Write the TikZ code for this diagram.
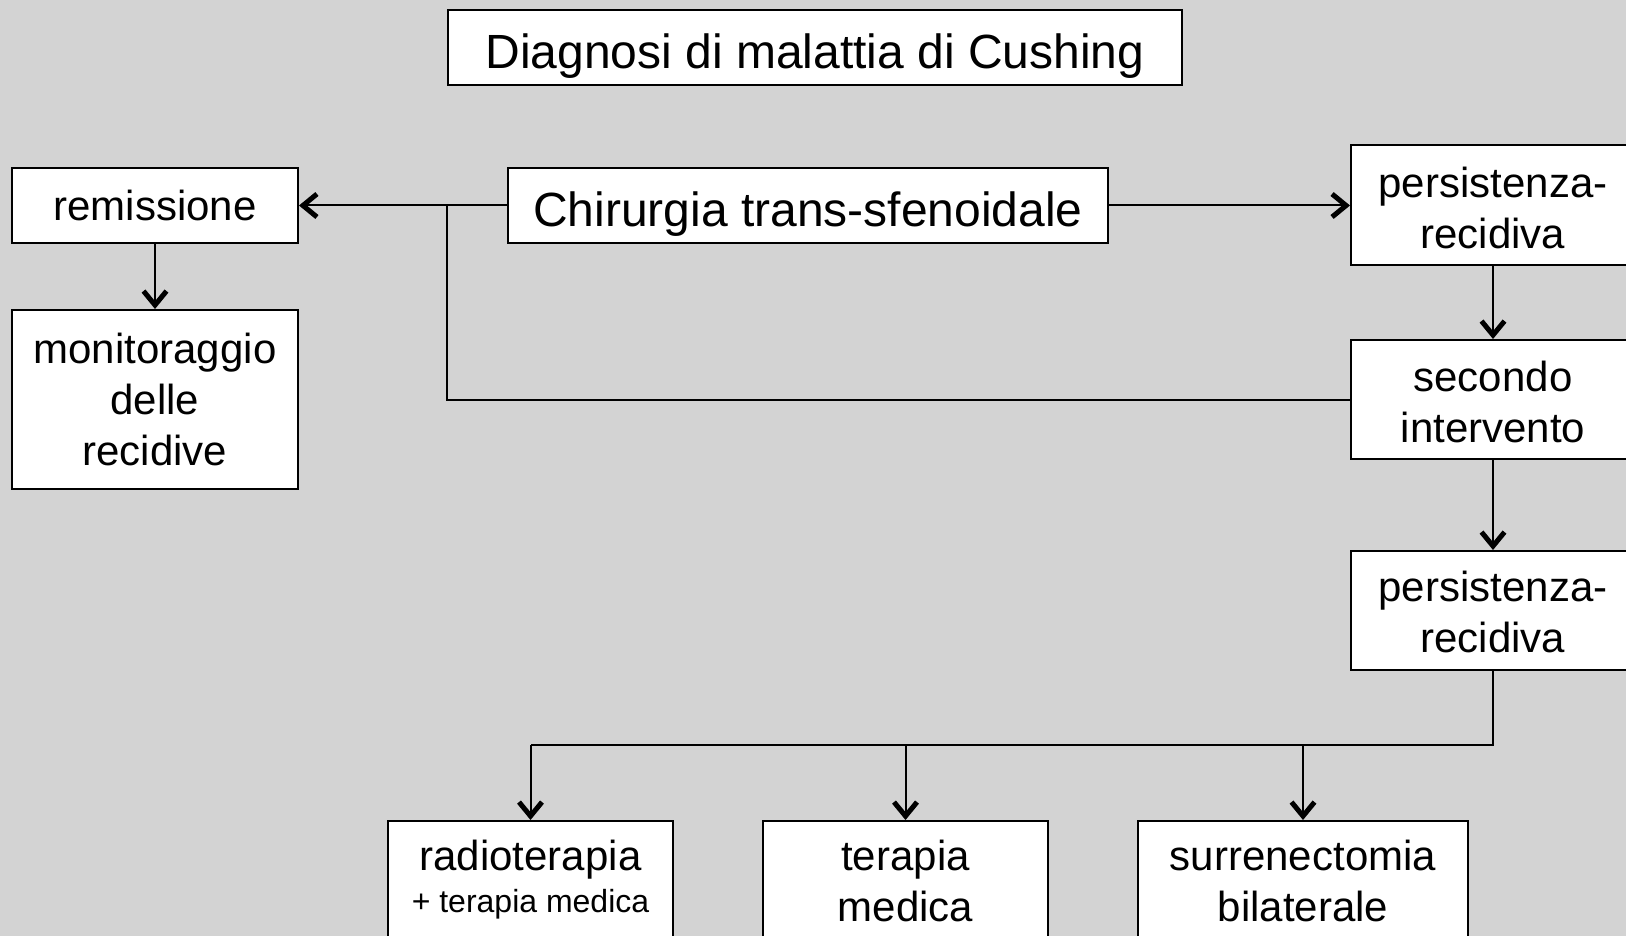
\documentclass[tikz,border=0pt]{standalone}
\usepackage{fontspec}
\setmainfont{Liberation Sans}
\usetikzlibrary{arrows.meta}
\definecolor{bgc}{RGB}{211,211,211}
\begin{document}
\begin{tikzpicture}[x=0.5pt,y=-0.5pt,
  box/.style={draw=black, line width=1pt, fill=white, align=center, inner sep=0pt,
              font=\fontsize{21}{25.5}\selectfont},
  bigbox/.style={box, font=\fontsize{24}{28}\selectfont, text height=21pt, text depth=0pt},
  conn/.style={line width=1pt, draw=black},
  arr/.style={conn, -{Straight Barb[length=7pt,width=11.5pt,line width=2.5pt]}}]
\useasboundingbox (0,0) rectangle (1626,936);
\clip (0,0) rectangle (1626,936);
\fill[bgc] (0,0) rectangle (1626,936);

\node[bigbox, minimum width=367pt, minimum height=37.5pt] (title) at (815,47.5) {Diagnosi di malattia di Cushing};
\node[bigbox, minimum width=300pt, minimum height=37.5pt] (chir) at (808,205.5) {Chirurgia trans-sfenoidale};
\node[box, minimum width=143pt, minimum height=37.5pt] (remis) at (155,205.5) {remissione};
\node[box, minimum width=143pt, minimum height=89.5pt] (monit) at (155,399.5) {monitoraggio\\delle\\recidive};
\node[box, minimum width=142pt, minimum height=60pt] (pers1) at (1493,205) {\rule{0pt}{18pt}persistenza-\\recidiva};
\node[box, minimum width=142pt, minimum height=59.5pt] (second) at (1493,399.5) {\rule{0pt}{18pt}secondo\\intervento};
\node[box, minimum width=142pt, minimum height=59.5pt] (pers2) at (1493,610.5) {\rule{0pt}{17pt}persistenza-\\recidiva};

\node[box, anchor=north, minimum width=142.5pt, inner ysep=7pt] (radio) at (530.5,820)
  {\parbox[t][70pt][t]{140pt}{\centering\strut radioterapia\\[-4.5pt]{\fontsize{16}{19}\selectfont + terapia medica}}};
\node[box, anchor=north, minimum width=142.5pt, inner ysep=7pt] (terap) at (905.5,820)
  {\parbox[t][70pt][t]{140pt}{\centering\strut terapia\\medica}};
\node[box, anchor=north, minimum width=165pt, inner ysep=7pt] (surr) at (1303,820)
  {\parbox[t][70pt][t]{160pt}{\centering\strut surrenectomia\\bilaterale}};

\coordinate (J) at (447,205.5);
\coordinate (B) at (1493,745);

\draw[arr] (chir.west) -- (remis.east);
\draw[conn] (J) |- (second.west);
\draw[arr] (chir.east) -- (chir.east -| pers1.west);
\draw[arr] (remis.south) -- (monit.north);
\draw[arr] (pers1.south) -- (second.north);
\draw[arr] (second.south) -- (pers2.north);
\draw[conn] (pers2.south) -- (B) -- (B -| radio.north);
\draw[arr] (B -| radio.north) -- (radio.north);
\draw[arr] (B -| terap.north) -- (terap.north);
\draw[arr] (B -| surr.north) -- (surr.north);
\end{tikzpicture}
\end{document}
